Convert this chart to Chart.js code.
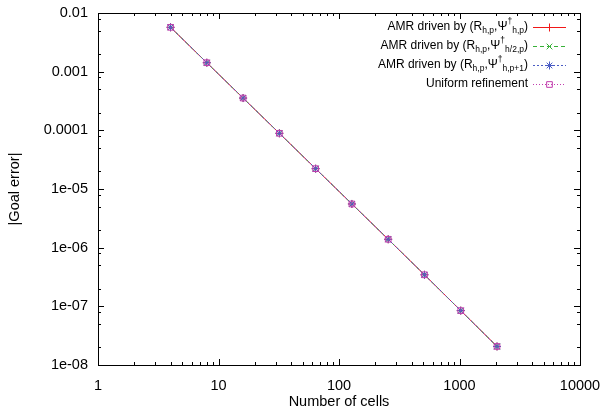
<!DOCTYPE html>
<html>
<head>
<meta charset="utf-8">
<script src="https://cdn.jsdelivr.net/npm/chart.js@4"></script>
<style>
  html, body { margin: 0; padding: 0; background: #fff; }
  #wrap { width: 605px; height: 415px; }
</style>
</head>
<body>
<div id="wrap"><canvas id="goal-chart" width="605" height="415"></canvas></div>
<script>
// Datos
const cells = [4, 8, 16, 32, 64, 128, 256, 512, 1024, 2048];

const errAmrHp   = [0.0057, 0.00142, 0.000355, 0.0000890, 0.0000222, 0.00000556, 0.00000139, 0.000000345, 0.0000000845, 0.0000000207];
const errAmrH2p  = [0.0057, 0.00142, 0.000355, 0.0000890, 0.0000222, 0.00000556, 0.00000139, 0.000000345, 0.0000000845, 0.0000000207];
const errAmrHp1  = [0.0057, 0.00142, 0.000355, 0.0000890, 0.0000222, 0.00000556, 0.00000139, 0.000000345, 0.0000000845, 0.0000000207];
const errUniform = [0.0057, 0.00142, 0.000355, 0.0000890, 0.0000222, 0.00000556, 0.00000139, 0.000000345, 0.0000000845, 0.0000000207];

const seriesLabels = [
    'AMR driven by (R_{h,p},Ψ^{†}_{h,p})',
    'AMR driven by (R_{h,p},Ψ^{†}_{h/2,p})',
    'AMR driven by (R_{h,p},Ψ^{†}_{h,p+1})',
    'Uniform refinement'
];

const xTickValues = [1, 10, 100, 1000, 10000];
const xTickLabels = ['1', '10', '100', '1000', '10000'];
const yTickValues = [0.01, 0.001, 0.0001, 1e-5, 1e-6, 1e-7, 1e-8];
const yTickLabels = ['0.01', '0.001', '0.0001', '1e-05', '1e-06', '1e-07', '1e-08'];

const SERIES_STYLE = [
    { color: '#f01818', dash: [],     marker: 'cross' },
    { color: '#38b038', dash: [4, 3], marker: 'crossRot' },
    { color: '#4a5cc4', dash: [2, 2], marker: 'star' },
    { color: '#c23cae', dash: [1, 2], marker: 'rect' }
];

const FONT = '"Liberation Sans", Arial, Helvetica, sans-serif';

function toPoints(values) {
    return cells.map((c, i) => ({ x: c, y: values[i] }));
}

// Ticks hacia adentro y marco, estilo gnuplot
const frameTicks = {
    id: 'frameTicks',
    afterDraw(chart) {
        const ctx = chart.ctx;
        const a = chart.chartArea;
        const xs = chart.scales.x;
        const ys = chart.scales.y;
        ctx.save();
        ctx.strokeStyle = '#000';
        ctx.lineWidth = 1;
        ctx.strokeRect(Math.round(a.left) + 0.5, Math.round(a.top) + 0.5,
                       Math.round(a.right - a.left), Math.round(a.bottom - a.top));
        ctx.beginPath();
        for (let d = 0; d < 4; d++) {
            for (let m = 1; m <= 9; m++) {
                const v = Math.pow(10, d) * m;
                const px = Math.round(xs.getPixelForValue(v)) + 0.5;
                const len = m === 1 ? 6 : 3;
                ctx.moveTo(px, a.bottom); ctx.lineTo(px, a.bottom - len);
                ctx.moveTo(px, a.top); ctx.lineTo(px, a.top + len);
            }
        }
        const px10k = Math.round(xs.getPixelForValue(10000)) + 0.5;
        ctx.moveTo(px10k, a.bottom); ctx.lineTo(px10k, a.bottom - 6);
        for (let d = -8; d < -2; d++) {
            [1, 2, 5, 8].forEach(m => {
                const v = Math.pow(10, d) * m;
                const py = Math.round(ys.getPixelForValue(v)) + 0.5;
                const len = m === 1 ? 6 : 3;
                ctx.moveTo(a.left, py); ctx.lineTo(a.left + len, py);
                ctx.moveTo(a.right, py); ctx.lineTo(a.right - len, py);
            });
        }
        ctx.stroke();
        ctx.restore();
    }
};

function parseRich(label) {
    const parts = [];
    const re = /(_\{[^}]*\}|\^\{[^}]*\})/g;
    let last = 0, m;
    while ((m = re.exec(label)) !== null) {
        if (m.index > last) parts.push({ t: label.slice(last, m.index), k: 'n' });
        parts.push({ t: m[0].slice(2, -1), k: m[0][0] === '_' ? 'sub' : 'sup' });
        last = re.lastIndex;
    }
    if (last < label.length) parts.push({ t: label.slice(last), k: 'n' });
    return parts;
}

// Leyenda a la derecha con texto alineado a la derecha, como en gnuplot
const richLegend = {
    id: 'richLegend',
    afterDraw(chart) {
        const ctx = chart.ctx;
        const textRight = 528;
        const lineX0 = 533, lineX1 = 566;
        ctx.save();
        ctx.textBaseline = 'middle';
        seriesLabels.forEach((label, i) => {
            const y = 27 + i * 19;
            const parts = parseRich(label);
            const fontOf = k => (k === 'n' ? '12px ' : '8.5px ') + FONT;
            let total = 0;
            parts.forEach(p => { ctx.font = fontOf(p.k); p.w = ctx.measureText(p.t).width; total += p.w; });
            let x = textRight - total;
            ctx.fillStyle = '#000';
            parts.forEach(p => {
                ctx.font = fontOf(p.k);
                const dy = p.k === 'sub' ? 4 : (p.k === 'sup' ? -5 : 0);
                ctx.fillText(p.t, x, y + dy);
                x += p.w;
            });
            const st = SERIES_STYLE[i];
            ctx.strokeStyle = st.color;
            ctx.fillStyle = 'rgba(0,0,0,0)';
            ctx.lineWidth = 1;
            ctx.setLineDash(st.dash);
            ctx.beginPath();
            ctx.moveTo(lineX0, y + 0.5); ctx.lineTo(lineX1, y + 0.5);
            ctx.stroke();
            ctx.setLineDash([]);
            Chart.helpers.drawPoint(ctx, {
                pointStyle: st.marker, radius: 4, borderWidth: 1, rotation: 0
            }, (lineX0 + lineX1) / 2, y + 0.5);
        });
        ctx.restore();
    }
};

const ctx = document.getElementById('goal-chart').getContext('2d');
const allSeries = [errAmrHp, errAmrH2p, errAmrHp1, errUniform];

new Chart(ctx, {
    type: 'scatter',
    data: {
        datasets: allSeries.map((vals, i) => ({
            label: seriesLabels[i],
            data: toPoints(vals),
            showLine: true,
            borderColor: SERIES_STYLE[i].color,
            backgroundColor: 'rgba(0,0,0,0)',
            borderWidth: 1,
            borderDash: SERIES_STYLE[i].dash,
            pointStyle: SERIES_STYLE[i].marker,
            pointRadius: 4,
            pointBorderWidth: 1,
            pointBorderColor: SERIES_STYLE[i].color,
            order: 4 - i
        }))
    },
    options: {
        responsive: false,
        animation: false,
        layout: { padding: { top: 13, right: 25, left: 0, bottom: 0 } },
        plugins: {
            legend: { display: false },
            tooltip: { enabled: false }
        },
        scales: {
            x: {
                type: 'logarithmic',
                min: 1,
                max: 10000,
                afterBuildTicks: s => { s.ticks = xTickValues.map(v => ({ value: v })); },
                afterFit: s => { s.height = 50; s.paddingLeft = 0; s.paddingRight = 0; },
                grid: { display: false, drawTicks: false },
                border: { display: false },
                ticks: {
                    padding: 12,
                    color: '#000',
                    font: { family: FONT, size: 14.5 },
                    maxRotation: 0,
                    autoSkip: false,
                    callback: (v) => xTickLabels[xTickValues.indexOf(v)]
                },
                title: {
                    display: true,
                    text: 'Number of cells',
                    color: '#000',
                    font: { family: FONT, size: 14.5 },
                    padding: { top: 0, bottom: 4 }
                }
            },
            y: {
                type: 'logarithmic',
                min: 1e-8,
                max: 0.01,
                afterBuildTicks: s => { s.ticks = yTickValues.map(v => ({ value: v })); },
                afterFit: s => { s.width = 98; s.paddingTop = 0; s.paddingBottom = 0; },
                grid: { display: false, drawTicks: false },
                border: { display: false },
                ticks: {
                    padding: 10,
                    color: '#000',
                    font: { family: FONT, size: 14.5 },
                    autoSkip: false,
                    callback: (v) => yTickLabels[yTickValues.findIndex(t => Math.abs(t - v) / t < 1e-6)]
                },
                title: {
                    display: true,
                    text: '|Goal error|',
                    color: '#000',
                    font: { family: FONT, size: 14.5 },
                    padding: { top: 6, bottom: 0 }
                }
            }
        }
    },
    plugins: [frameTicks, richLegend]
});
</script>
</body>
</html>
